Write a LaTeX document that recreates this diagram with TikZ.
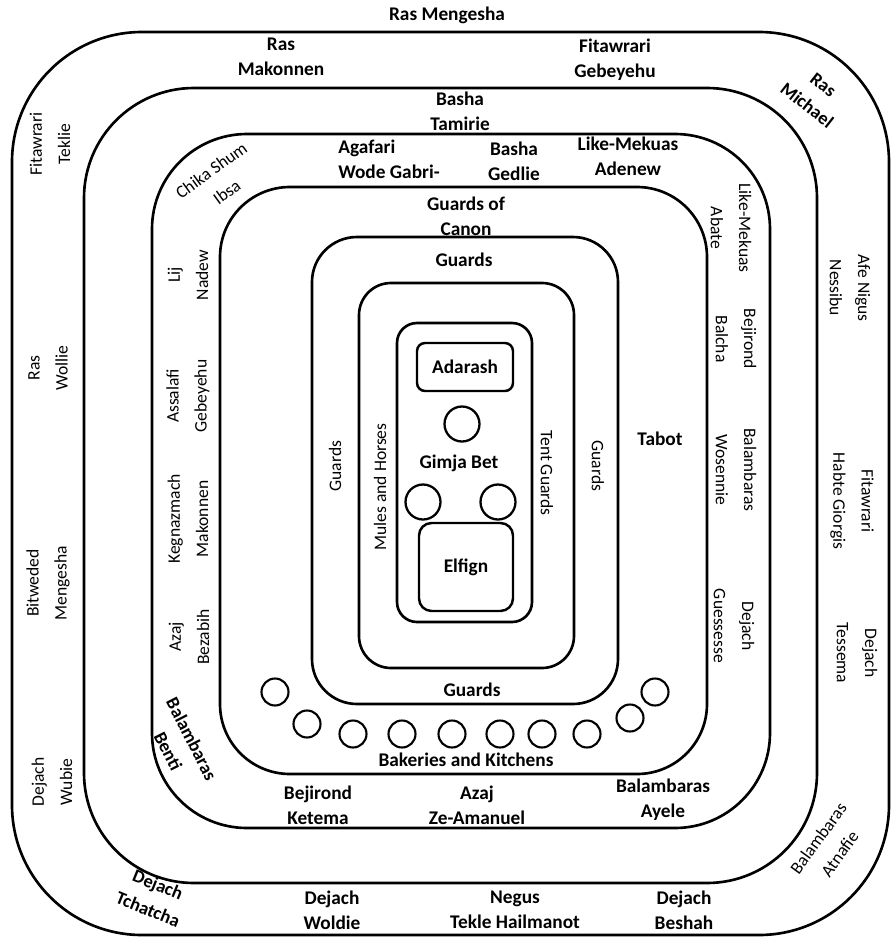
\documentclass[tikz,border=0pt]{standalone}
\usepackage{fontspec}
\setmainfont{Carlito}
\usetikzlibrary{positioning}

\begin{document}
\begin{tikzpicture}[x=0.02cm, y=-0.02cm,
      ring/.style={draw, line width=1.5pt},
      hlbl/.style={align=center, inner sep=0pt, font=\fontsize{11}{14.2}\selectfont\bfseries},
      llbl/.style={align=center, inner sep=0pt, rotate=90, font=\fontsize{10}{16}\selectfont},
      rlbl/.style={align=center, inner sep=0pt, rotate=-90, font=\fontsize{10}{16}\selectfont},
      tlbl/.style={align=center, inner sep=0pt, font=\fontsize{10.5}{15}\selectfont\bfseries},
      spot/.style={circle, draw, line width=1.2pt, minimum size=0.54cm, inner sep=0pt},
      tent/.style={circle, draw, line width=1.3pt, minimum size=0.7cm, inner sep=0pt},
      room/.style={draw, line width=1.4pt, inner sep=0pt, font=\fontsize{11}{13}\selectfont\bfseries}]
    \useasboundingbox (0,0) rectangle (895,937);
    % the rings of the camp
    \foreach \l/\t/\r/\b/\rad in {12/32/889/935/130, 84/88/817/883/110, 152/134/770/828/95,
        220/187/707/774/70, 312/237/618/704/45, 359/283/574/668/32, 397/323/532/622/20}
      \draw[ring, rounded corners=\rad*0.2mm] (\l,\t) rectangle (\r,\b);
    % inner tent
    \node[room, rounded corners=1.6mm, minimum width=1.92cm, minimum height=0.96cm] (adarash) at (465,367) {Adarash};
    \node[room, rounded corners=2.5mm, minimum width=1.88cm, minimum height=1.76cm] (elfign) at (466,567) {Elfign};
    \foreach \n/\x/\y in {c1/462/424, c2/423/502, c3/498/502}
      \node[tent] (\n) at (\x,\y) {};
    \node[hlbl] (gimja) at (459,463) {Gimja Bet};
    % bakeries and kitchens
    \foreach \i/\x/\y in {1/275/692, 2/307/724, 3/353/734, 4/402/734, 5/452/734,
        6/500/734, 7/542/734, 8/587/734, 9/630/718, 10/655/692}
      \node[spot] (k\i) at (\x,\y) {};
    % horizontal names
    \foreach \n/\x/\y/\txt in {mengesha/447/15/{Ras Mengesha}, makonnen/281/57/{Ras\\Makonnen},
        gebeyehu/615/60/{Fitawrari\\Gebeyehu}, tamirie/460/111/{Basha\\Tamirie},
        gedlie/514/161/{Basha\\Gedlie}, adenew/628/156/{Like-Mekuas\\Adenew},
        canon/466/216/{Guards of\\Canon}, guardstop/464/260/{Guards}, tabot/660/439/{Tabot},
        guardsbot/472/690/{Guards}, bakeries/466/760/{Bakeries and Kitchens},
        ketema/318/805/{Bejirond\\Ketema}, amanuel/477/805/{Azaj\\Ze-Amanuel},
        ayele/663/800/{Balambaras\\Ayele}, woldie/332/910/{Dejach\\Woldie},
        tekle/515/910/{Negus\\Tekle Hailmanot}, beshah/684/910/{Dejach\\Beshah}}
      \node[hlbl] (\n) at (\x,\y) {\txt};
    \node[hlbl, align=left] (agafari) at (389,159) {Agafari\\Wode Gabri-};
    % names read upwards
    \foreach \n/\x/\y/\txt in {teklie/50/144/{Fitawrari\\Teklie}, wollie/48/368/{Ras\\Wollie},
        bitweded/48/583/{Bitweded\\Mengesha}, wubie/52/782/{Dejach\\Wubie},
        nadew/188/275/{Lij\\Nadew}, assalafi/188/396/{Assalafi\\Gebeyehu},
        kegnazmach/188/519/{Kegnazmach\\Makonnen}, bezabih/189/637/{Azaj\\Bezabih},
        guardsl/335/466/{Guards}, mules/380/487/{Mules and Horses}}
      \node[llbl] (\n) at (\x,\y) {\txt};
    % names read downwards
    \foreach \n/\x/\y/\txt in {nessibu/850/288/{Afe Nigus\\Nessibu}, habte/852/501/{Fitawrari\\Habte Giorgis},
        tessema/857/653/{Dejach\\Tessema}, abate/731/228/{Like-Mekuas\\Abate},
        balcha/736/339/{Bejirond\\Balcha}, wosennie/736/470/{Balambaras\\Wosennie},
        guessesse/734/626/{Dejach\\Guessesse}, tentguards/547/473/{Tent Guards},
        guardsr/598/466/{Guards}}
      \node[rlbl] (\n) at (\x,\y) {\txt};
    % names on the corners
    \node[tlbl, rotate=-38] (michael) at (815,95) {Ras\\Michael};
    \node[tlbl, rotate=36, font=\fontsize{10}{15}\selectfont] (chika) at (219,181) {Chika Shum\\Ibsa};
    \node[tlbl, rotate=-63] (benti) at (180,745) {Balambaras\\Benti};
    \node[tlbl, rotate=-22] (tchatcha) at (153,897) {Dejach\\Tchatcha};
    \node[tlbl, rotate=54, font=\fontsize{10}{15}\selectfont] (atnafie) at (829,846) {Balambaras\\Atnafie};
  \end{tikzpicture}
\end{document}
